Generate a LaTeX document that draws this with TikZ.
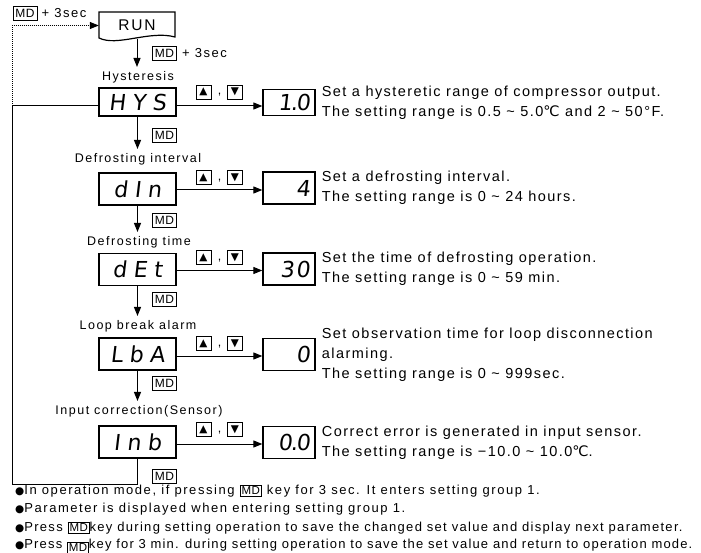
\documentclass[tikz,border=0pt]{standalone}
\usepackage{fontspec}
\setmainfont{Liberation Sans}
\newfontfamily\labf[LetterSpace=12]{Liberation Sans}
\newfontfamily\descf[LetterSpace=10]{Liberation Sans}
\newfontfamily\botf[LetterSpace=12]{Liberation Sans}
\newfontfamily\botg[LetterSpace=10]{Liberation Sans}
\newfontfamily\both[LetterSpace=9]{Liberation Sans}
\newfontfamily\mdf[LetterSpace=4]{Liberation Sans}
\newfontfamily\dvf{DejaVu Sans}
\newfontfamily\segf[FakeSlant=0.12,LetterSpace=30]{DejaVu Sans}
\newfontfamily\segv[FakeSlant=0.12,LetterSpace=8]{DejaVu Sans}
\usetikzlibrary{arrows.meta}
\newcommand\mdk{{\fboxsep=1.1pt\fboxrule=0.7pt\fbox{\mdf\fontsize{11.5}{12}\selectfont MD}}}
\newcommand\bul{{\dvf\fontsize{10.5}{10}\selectfont ●}}
\newcommand\degc{{\dvf ℃}}
\newcommand\pt{\kern-1.5pt.\kern-1.5pt}
\tikzset{
  disp/.style={draw, line width=1.3pt, minimum width=77pt, minimum height=32pt, inner sep=0pt,
    font=\segf\fontsize{22}{22}\selectfont},
  val/.style={draw, line width=1.3pt, text width=42pt, align=right, inner xsep=5pt, inner ysep=0pt,
    minimum height=32pt, font=\segv\fontsize{22}{22}\selectfont},
  keyb/.style={draw, line width=0.8pt, minimum width=15pt, minimum height=14pt, inner sep=0pt,
    font=\dvf\fontsize{10.5}{10}\selectfont},
  mdkey/.style={draw, line width=0.8pt, minimum width=24pt, minimum height=14pt, inner sep=0pt,
    font=\mdf\fontsize{12}{12}\selectfont},
  lbl/.style={inner xsep=0pt, inner ysep=4pt, font=\labf\fontsize{12.5}{15}\selectfont},
  note/.style={anchor=west, inner sep=0pt, font=\labf\fontsize{13}{15}\selectfont},
  desc/.style={anchor=west, inner sep=0pt, align=left, font=\descf\fontsize{14.5}{20}\selectfont},
  botl/.style={anchor=west, inner sep=0pt, font=\botf\fontsize{13}{16}\selectfont},
  conn/.style={line width=1pt},
  arr/.style={line width=1pt, -{Triangle[length=9pt,width=7pt]}},
}
\begin{document}
\begin{tikzpicture}[x=1pt,y=-1pt]
\useasboundingbox (0,0) rectangle (701,553);

% top-left note
\node[mdkey] (mt) at (25,13) {MD};
\node[note] (mtt) at ([xshift=4pt]mt.east) {+ 3sec};

% RUN document shape
\draw[line width=1.2pt] (99,12) -- (175,12) -- (175,37)
  .. controls (150,30) and (117,47) .. (99,38) -- cycle;
\node[minimum width=76pt, minimum height=27pt, inner sep=0pt,
  font=\labf\fontsize{15.5}{16}\selectfont] (run) at (137,25.5) {RUN};

\node[mdkey] (m0) at (164.5,53) {MD};
\node[note] (m0t) at ([xshift=5pt]m0.east) {+ 3sec};

% labels
\node[lbl] (l1) at (138,77) {Hysteresis};
\node[lbl] (l2) at (138,159) {Defrosting interval};
\node[lbl] (l3) at (139,242) {Defrosting time};
\node[lbl] (l4) at (138,326) {Loop break alarm};
\node[lbl] (l5) at (139,411) {Input correction(Sensor)};

% displays
\node[disp, minimum height=28pt] (hys) at (137.5,102) {HYS};
\node[disp] (din) at (137.5,189) {dIn};
\node[disp] (det) at (137.5,269.5) {dEt};
\node[disp] (lba) at (137.5,354) {LbA};
\node[disp] (inb) at (137.5,442) {Inb};

% values
\node[val, minimum height=26pt] (v1) at (289,102.5) {1\pt0};
\node[val] (v2) at (289,188) {4};
\node[val] (v3) at (289,269) {30};
\node[val] (v4) at (289,354.5) {0};
\node[val] (v5) at (289,442.5) {0\pt0};

% descriptions
\node[desc] (d1) at ([xshift=6pt]v1.east) {Set a hysteretic range of compressor output.\\The setting range is 0.5 \textasciitilde{} 5.0\degc{} and 2 \textasciitilde{} 50°F.};
\node[desc] (d2) at ([xshift=6pt]v2.east) {Set a defrosting interval.\\The setting range is 0 \textasciitilde{} 24 hours.};
\node[desc] (d3) at ([xshift=6pt]v3.east) {Set the time of defrosting operation.\\The setting range is 0 \textasciitilde{} 59 min.};
\node[desc] (d4) at ([xshift=6pt]v4.east) {Set observation time for loop disconnection\\alarming.\\The setting range is 0 \textasciitilde{} 999sec.};
\node[desc] (d5) at ([xshift=6pt]v5.east) {Correct error is generated in input sensor.\\The setting range is −10.0 \textasciitilde{} 10.0\degc.};

% up/down keys
\foreach \n/\y in {1/92, 2/177.5, 3/257.5, 4/343.5, 5/429.5}{
  \node[keyb] (ku\n) at (203.5,\y) {▲};
  \node[keyb] (kd\n) at (235,\y) {▼};
  \node[inner sep=0pt, font=\labf\fontsize{12.5}{15}\selectfont] (kc\n) at (219.5,\y+3) {,};
}

% MD keys beside down arrows
\node[mdkey] (m1) at (164.5,135) {MD};
\node[mdkey] (m2) at (164.5,220) {MD};
\node[mdkey] (m3) at (164.5,299.5) {MD};
\node[mdkey] (m4) at (164.5,383) {MD};
\node[mdkey] (m5) at (164.5,476) {MD};

% vertical arrows
\draw[arr] (run.south) -- (run.south |- l1.north);
\draw[arr] (hys.south) -- (hys.south |- l2.north);
\draw[arr] (din.south) -- (din.south |- l3.north);
\draw[arr] (det.south) -- (det.south |- l4.north);
\draw[arr] (lba.south) -- (lba.south |- l5.north);

% horizontal arrows
\draw[arr] ([yshift=-4pt]hys.east) -- ([yshift=-4pt]hys.east -| v1.west);
\draw[arr] ([yshift=-1pt]din.east) -- ([yshift=-1pt]din.east -| v2.west);
\draw[arr] ([yshift=-1pt]det.east) -- ([yshift=-1pt]det.east -| v3.west);
\draw[arr] ([yshift=-2pt]lba.east) -- ([yshift=-2pt]lba.east -| v4.west);
\draw[arr] ([yshift=-2pt]inb.east) -- ([yshift=-2pt]inb.east -| v5.west);

% return loop
\coordinate (lc) at (12,106);
\coordinate (bl) at (12,484);
\draw[conn] (inb.south) |- (bl) -- (lc) -- ([yshift=-4pt]hys.west);
\draw[line width=1pt, densely dotted, -{Triangle[length=9pt,width=7pt]}] (lc) |- (run.west);

% notes at bottom
\node[botl] (n1) at (15,491) {\bul In operation mode, if pressing \mdk{} key for 3 sec. It enters setting group 1.};
\node[botl] (n2) at (15,509.5) {\bul Parameter is displayed when entering setting group 1.};
\node[botl, font=\botg\fontsize{13}{16}\selectfont] (n3) at (15,528) {\bul Press \mdk{}key during setting operation to save the changed set value and display next parameter.};
\node[botl, font=\both\fontsize{13}{16}\selectfont] (n4) at (15,546.5) {\bul Press \raisebox{-3pt}{\mdk}key for 3 min. during setting operation to save the set value and return to operation mode.};
\end{tikzpicture}
\end{document}
